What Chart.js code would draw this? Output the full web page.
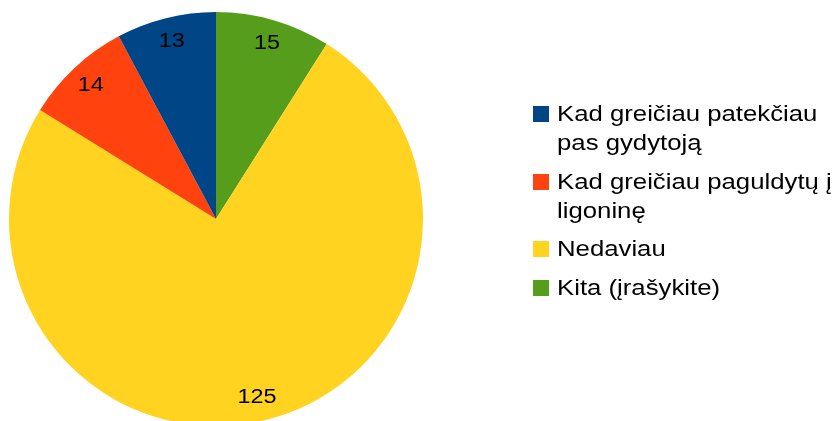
<!DOCTYPE html>
<html>
<head>
<meta charset="utf-8">
<script src="https://cdn.jsdelivr.net/npm/chart.js@4/dist/chart.umd.min.js"></script>
<style>
    html, body { margin: 0; padding: 0; background: #fff; overflow: hidden; }
    #wrap { position: relative; width: 838px; height: 440px; }
    #legend { position: absolute; left: 533px; top: 99px; font-family: "Liberation Sans", Arial, sans-serif; font-size: 22px; line-height: 29px; color: #000; }
    .item { position: relative; padding-left: 24px; margin-bottom: 9.5px; white-space: nowrap; }
    .line { display: block; transform: scaleX(1.17); transform-origin: 0 0; }
    .box { position: absolute; left: 0; top: 7px; width: 16px; height: 16px; }
</style>
</head>
<body>
<div id="wrap">
    <canvas id="pie-chart" width="838" height="440"></canvas>
    <div id="legend"></div>
</div>
<script>
const labels = ['Kad greičiau patekčiau pas gydytoją', 'Kad greičiau paguldytų į ligoninę', 'Nedaviau', 'Kita (įrašykite)'];
const legendLines = [
    ['Kad greičiau patekčiau', 'pas gydytoją'],
    ['Kad greičiau paguldytų į', 'ligoninę'],
    ['Nedaviau'],
    ['Kita (įrašykite)']
];
const values = [13, 14, 125, 15];
const colors = ['#004586', '#ff420e', '#ffd320', '#579d1c'];

// slices run counter-clockwise in the original, so feed them reversed
const drawLabels = labels.slice().reverse();
const drawValues = values.slice().reverse();
const drawColors = colors.slice().reverse();

const valueLabels = {
    id: 'valueLabels',
    afterDatasetsDraw(chart) {
        const ctx = chart.ctx;
        const meta = chart.getDatasetMeta(0);
        meta.data.forEach((arc, i) => {
            const mid = (arc.startAngle + arc.endAngle) / 2;
            const r = arc.outerRadius * 0.885;
            ctx.save();
            ctx.translate(arc.x + Math.cos(mid) * r, arc.y + Math.sin(mid) * r);
            ctx.scale(1.17, 1);
            ctx.font = '20px "Liberation Sans", Arial, sans-serif';
            ctx.fillStyle = '#000';
            ctx.textAlign = 'center';
            ctx.textBaseline = 'middle';
            ctx.fillText(String(drawValues[i]), 0, 0);
            ctx.restore();
        });
    }
};

var ctx = document.getElementById('pie-chart').getContext('2d');
var myChart = new Chart(ctx, {
    type: 'pie',
    data: {
        labels: drawLabels,
        datasets: [{
            data: drawValues,
            backgroundColor: drawColors,
            borderWidth: 0
        }]
    },
    options: {
        responsive: false,
        animation: false,
        layout: { padding: { left: 9, top: 12, right: 415, bottom: 14 } },
        plugins: {
            legend: { display: false },
            tooltip: { enabled: false }
        }
    },
    plugins: [valueLabels]
});

const legend = document.getElementById('legend');
legendLines.forEach((lines, i) => {
    const item = document.createElement('div');
    item.className = 'item';
    const box = document.createElement('span');
    box.className = 'box';
    box.style.background = colors[i];
    item.appendChild(box);
    lines.forEach((t) => {
        const line = document.createElement('span');
        line.className = 'line';
        line.textContent = t;
        item.appendChild(line);
    });
    legend.appendChild(item);
});
</script>
</body>
</html>
